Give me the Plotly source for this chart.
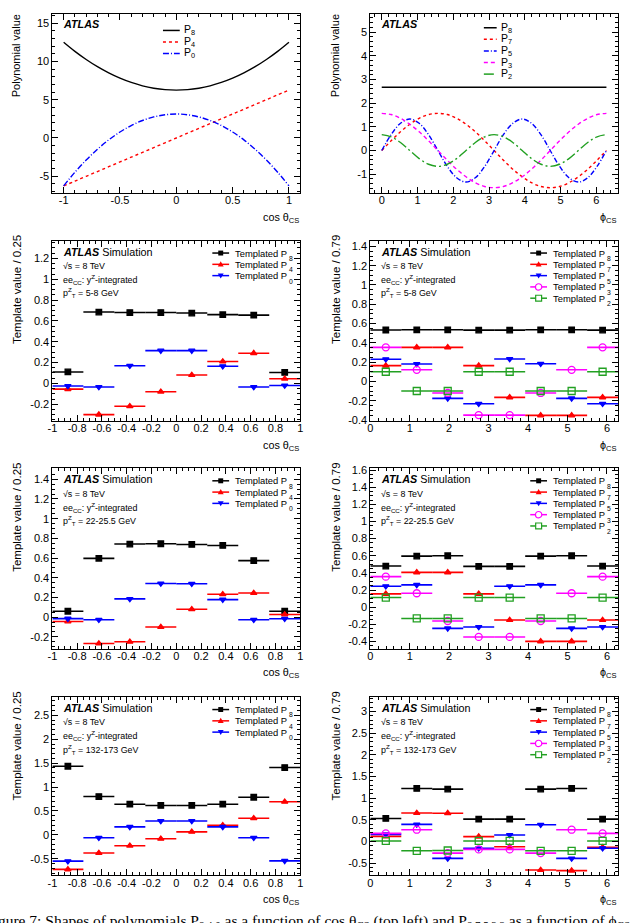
import plotly.graph_objects as go

FIG_W, FIG_H = 630, 923
SANS = "Liberation Sans, Arial, Helvetica, sans-serif"
SERIF = "Liberation Serif, Times New Roman, serif"

# ------------------------------------------------------------------ data
# top-left: polynomials vs cos(theta_CS)
cos_grid = [-1.0, -0.9, -0.8, -0.7, -0.6, -0.5, -0.4, -0.3, -0.2, -0.1, 0.0,
            0.1, 0.2, 0.3, 0.4, 0.5, 0.6, 0.7, 0.8, 0.9, 1.0]
poly_cos_P8 = [12.5, 11.31, 10.25, 9.31, 8.5, 7.81, 7.25, 6.81, 6.5, 6.31, 6.25,
               6.31, 6.5, 6.81, 7.25, 7.81, 8.5, 9.31, 10.25, 11.31, 12.5]
poly_cos_P4 = [-6.25, -5.63, -5.0, -4.38, -3.75, -3.13, -2.5, -1.88, -1.25, -0.63, 0.0,
               0.63, 1.25, 1.88, 2.5, 3.13, 3.75, 4.38, 5.0, 5.63, 6.25]
poly_cos_P0 = [-6.25, -4.47, -2.88, -1.47, -0.25, 0.78, 1.63, 2.28, 2.75, 3.03, 3.13,
               3.03, 2.75, 2.28, 1.63, 0.78, -0.25, -1.47, -2.88, -4.47, -6.25]

# top-right: polynomials vs phi_CS
phi_grid = [0.0, 0.262, 0.524, 0.785, 1.047, 1.309, 1.571, 1.833, 2.094, 2.356, 2.618,
            2.880, 3.142, 3.403, 3.665, 3.927, 4.189, 4.451, 4.712, 4.974, 5.236,
            5.498, 5.760, 6.021, 6.283]
poly_phi_P8 = [2.67] * 25
poly_phi_P7 = [0.0, 0.41, 0.79, 1.11, 1.36, 1.52, 1.57, 1.52, 1.36, 1.11, 0.79, 0.41, 0.0,
               -0.41, -0.79, -1.11, -1.36, -1.52, -1.57, -1.52, -1.36, -1.11, -0.79, -0.41, 0.0]
poly_phi_P5 = [0.0, 0.67, 1.15, 1.33, 1.15, 0.67, 0.0, -0.67, -1.15, -1.33, -1.15, -0.67, 0.0,
               0.67, 1.15, 1.33, 1.15, 0.67, 0.0, -0.67, -1.15, -1.33, -1.15, -0.67, 0.0]
poly_phi_P3 = [1.57, 1.52, 1.36, 1.11, 0.79, 0.41, 0.0, -0.41, -0.79, -1.11, -1.36, -1.52, -1.57,
               -1.52, -1.36, -1.11, -0.79, -0.41, 0.0, 0.41, 0.79, 1.11, 1.36, 1.52, 1.57]
poly_phi_P2 = [0.67, 0.58, 0.34, 0.0, -0.34, -0.58, -0.67, -0.58, -0.34, 0.0, 0.34, 0.58, 0.67,
               0.58, 0.34, 0.0, -0.34, -0.58, -0.67, -0.58, -0.34, 0.0, 0.34, 0.58, 0.67]

# templated binned shapes
cos_centers = [-0.875, -0.625, -0.375, -0.125, 0.125, 0.375, 0.625, 0.875]
cos_halfwidth = 0.125
phi_centers = [0.393, 1.178, 1.963, 2.749, 3.534, 4.320, 5.105, 5.890]
phi_halfwidth = 0.3927

# pT 5-8 GeV
c58_P8 = [0.11, 0.685, 0.68, 0.68, 0.675, 0.66, 0.655, 0.105]
c58_P4 = [-0.055, -0.30, -0.22, -0.08, 0.08, 0.21, 0.29, 0.045]
c58_P0 = [-0.025, -0.035, 0.17, 0.315, 0.315, 0.165, -0.035, -0.02]
f58_P8 = [0.533, 0.535, 0.535, 0.532, 0.532, 0.535, 0.535, 0.532]
f58_P7 = [0.163, 0.353, 0.353, 0.163, -0.166, -0.353, -0.353, -0.166]
f58_P5 = [0.23, 0.18, -0.176, -0.232, 0.232, 0.183, -0.176, -0.232]
f58_P3 = [0.353, 0.12, -0.12, -0.35, -0.35, -0.12, 0.12, 0.353]
f58_P2 = [0.10, -0.10, -0.10, 0.10, 0.10, -0.10, -0.10, 0.10]

# pT 22-25.5 GeV
c22_P8 = [0.06, 0.597, 0.742, 0.745, 0.738, 0.728, 0.574, 0.06]
c22_P4 = [-0.044, -0.268, -0.25, -0.10, 0.08, 0.232, 0.245, 0.027]
c22_P0 = [-0.015, -0.027, 0.185, 0.342, 0.339, 0.178, -0.027, -0.017]
f22_P8 = [0.48, 0.596, 0.60, 0.476, 0.476, 0.596, 0.60, 0.48]
f22_P7 = [0.155, 0.406, 0.406, 0.155, -0.15, -0.40, -0.40, -0.15]
f22_P5 = [0.244, 0.26, -0.248, -0.232, 0.244, 0.26, -0.248, -0.232]
f22_P3 = [0.356, 0.162, -0.162, -0.348, -0.348, -0.162, 0.162, 0.356]
f22_P2 = [0.112, -0.132, -0.132, 0.112, 0.112, -0.132, -0.132, 0.112]

# pT 132-173 GeV
c132_P8 = [1.434, 0.80, 0.64, 0.614, 0.614, 0.64, 0.786, 1.407]
c132_P4 = [-0.724, -0.38, -0.228, -0.083, 0.062, 0.20, 0.345, 0.69]
c132_P0 = [-0.552, -0.062, 0.166, 0.29, 0.29, 0.166, -0.062, -0.545]
f132_P8 = [0.533, 1.225, 1.21, 0.517, 0.517, 1.21, 1.225, 0.517]
f132_P7 = [0.12, 0.66, 0.655, 0.115, -0.12, -0.655, -0.67, -0.13]
f132_P5 = [0.167, 0.396, -0.388, -0.152, 0.152, 0.388, -0.388, -0.152]
f132_P3 = [0.19, 0.274, -0.266, -0.18, -0.18, -0.266, 0.274, 0.19]
f132_P2 = [0.015, -0.213, -0.205, 0.015, 0.015, -0.213, -0.213, 0.015]

pt_labels = ["5-8 GeV", "22-25.5 GeV", "132-173 GeV"]

# tick labels
xt_top_cos = [-1, -0.5, 0, 0.5, 1]
xt_top_cos_txt = ["-1", "-0.5", "0", "0.5", "1"]
yt_top_cos = [-5, 0, 5, 10, 15]
yt_top_cos_txt = ["-5", "0", "5", "10", "15"]
xt_phi = [0, 1, 2, 3, 4, 5, 6]
xt_phi_txt = ["0", "1", "2", "3", "4", "5", "6"]
yt_top_phi = [-1, 0, 1, 2, 3, 4, 5]
yt_top_phi_txt = ["-1", "0", "1", "2", "3", "4", "5"]
xt_cos = [-1, -0.8, -0.6, -0.4, -0.2, 0, 0.2, 0.4, 0.6, 0.8, 1]
xt_cos_txt = ["-1", "-0.8", "-0.6", "-0.4", "-0.2", "0", "0.2", "0.4", "0.6", "0.8", "1"]
yt_r2l = [-0.2, 0, 0.2, 0.4, 0.6, 0.8, 1, 1.2]
yt_r2l_txt = ["-0.2", "0", "0.2", "0.4", "0.6", "0.8", "1", "1.2"]
yt_r2r = [-0.4, -0.2, 0, 0.2, 0.4, 0.6, 0.8, 1, 1.2, 1.4]
yt_r2r_txt = ["-0.4", "-0.2", "0", "0.2", "0.4", "0.6", "0.8", "1", "1.2", "1.4"]
yt_r3l = [-0.2, 0, 0.2, 0.4, 0.6, 0.8, 1, 1.2, 1.4]
yt_r3l_txt = ["-0.2", "0", "0.2", "0.4", "0.6", "0.8", "1", "1.2", "1.4"]
yt_r3r = [-0.4, -0.2, 0, 0.2, 0.4, 0.6, 0.8, 1, 1.2, 1.4, 1.6]
yt_r3r_txt = ["-0.4", "-0.2", "0", "0.2", "0.4", "0.6", "0.8", "1", "1.2", "1.4", "1.6"]
yt_r4l = [-0.5, 0, 0.5, 1, 1.5, 2, 2.5]
yt_r4l_txt = ["-0.5", "0", "0.5", "1", "1.5", "2", "2.5"]
yt_r4r = [-0.5, 0, 0.5, 1, 1.5, 2, 2.5, 3]
yt_r4r_txt = ["-0.5", "0", "0.5", "1", "1.5", "2", "2.5", "3"]

# ------------------------------------------------------------------ styles / geometry
COL_PX = [(48, 299), (370, 621)]
ROW_PX = [(10, 191), (239, 421), (469, 651), (700, 880)]

BLACK, RED, BLUE, MAG, GREEN = "#000000", "#ff0000", "#0000ff", "#ff00ff", "#22a022"
SER_STYLE = {
    "P8": dict(color=BLACK, symbol="square", size=5.5),
    "P7": dict(color=RED, symbol="triangle-up", size=5.5),
    "P4": dict(color=RED, symbol="triangle-up", size=5.5),
    "P5": dict(color=BLUE, symbol="triangle-down", size=5.5),
    "P0": dict(color=BLUE, symbol="triangle-down", size=5.5),
    "P3": dict(color=MAG, symbol="circle-open", size=7),
    "P2": dict(color=GREEN, symbol="square-open", size=7),
}

TICK_FS = 11
LEG_FS = 9.4
SMALL_FS = 8.9
ATLAS_FS = 10.8
TITLE_FS = 11.5


def X(p):
    return p / FIG_W


def Y(p):
    return 1 - p / FIG_H


fig = go.Figure()
annotations = []
shapes = []
layout_axes = {}


def txt(x, y, text, size, family=SANS, xanchor="left", yanchor="middle", angle=0, color="black"):
    annotations.append(dict(x=X(x), y=Y(y), xref="paper", yref="paper", text=text, showarrow=False,
                            xanchor=xanchor, yanchor=yanchor, textangle=angle, borderpad=0,
                            font=dict(family=family, size=size, color=color)))


def axes(n, row, col, xr, yr, xtv, xtt, xminor, ytv, ytt, yminor):
    (x0, x1), (y0, y1) = COL_PX[col], ROW_PX[row]
    common = dict(showline=True, linecolor="black", linewidth=1, mirror="allticks",
                  ticks="inside", ticklen=6, tickwidth=1, tickcolor="black",
                  showgrid=False, zeroline=False, tickmode="array",
                  tickfont=dict(family=SANS, size=TICK_FS, color="black"))
    sfx = "" if n == 1 else str(n)
    layout_axes["xaxis" + sfx] = dict(domain=[X(x0), X(x1)], range=xr, anchor="y" + sfx,
                                      tickvals=xtv, ticktext=xtt, ticklabelstandoff=-3,
                                      minor=dict(tickmode="linear", tick0=0, dtick=xminor, ticks="inside",
                                                 ticklen=3, tickcolor="black", showgrid=False),
                                      **common)
    layout_axes["yaxis" + sfx] = dict(domain=[Y(y1), Y(y0)], range=yr, anchor="x" + sfx,
                                      tickvals=ytv, ticktext=ytt, ticklabelstandoff=0,
                                      minor=dict(tickmode="linear", tick0=0, dtick=yminor, ticks="inside",
                                                 ticklen=3, tickcolor="black", showgrid=False),
                                      **common)
    return "x" + sfx, "y" + sfx


def legend_key(xl0, xl1, yc, color, symbol=None, dash="solid"):
    shapes.append(dict(type="line", xref="paper", yref="paper", x0=X(xl0), x1=X(xl1), y0=Y(yc), y1=Y(yc),
                       line=dict(color=color, width=1.5, dash=dash)))
    if symbol is None:
        return
    xm = (xl0 + xl1) / 2
    if symbol == "square":
        shapes.append(dict(type="rect", xref="paper", yref="paper", x0=X(xm - 2.5), x1=X(xm + 2.5),
                           y0=Y(yc + 2.5), y1=Y(yc - 2.5), fillcolor=color, line=dict(width=0)))
    elif symbol == "square-open":
        shapes.append(dict(type="rect", xref="paper", yref="paper", x0=X(xm - 3), x1=X(xm + 3),
                           y0=Y(yc + 3), y1=Y(yc - 3), fillcolor="white", line=dict(width=1.2, color=color)))
    elif symbol == "circle-open":
        shapes.append(dict(type="circle", xref="paper", yref="paper", x0=X(xm - 3.2), x1=X(xm + 3.2),
                           y0=Y(yc + 3.2), y1=Y(yc - 3.2), fillcolor="white", line=dict(width=1.2, color=color)))
    elif symbol in ("triangle-up", "triangle-down"):
        s = -1 if symbol == "triangle-up" else 1
        path = "M {a},{b} L {c},{b} L {d},{e} Z".format(a=X(xm - 3), c=X(xm + 3), b=Y(yc - s * 2.2),
                                                       d=X(xm), e=Y(yc + s * 3))
        shapes.append(dict(type="path", xref="paper", yref="paper", path=path, fillcolor=color,
                           line=dict(width=0)))


# ------------------------------------------------------------------ top row: polynomials
xa, ya = axes(1, 0, 0, [-1.1, 1.1], [-7.2, 16.2], xt_top_cos, xt_top_cos_txt, 0.1,
              yt_top_cos, yt_top_cos_txt, 1)
top_left = [("P8", poly_cos_P8, BLACK, "solid"), ("P4", poly_cos_P4, RED, "dot"),
            ("P0", poly_cos_P0, BLUE, "6px,2px,1px,2px")]
for i, (nm, vals, c, d) in enumerate(top_left):
    fig.add_trace(go.Scatter(x=cos_grid, y=vals, mode="lines", xaxis=xa, yaxis=ya, showlegend=False,
                             line=dict(color=c, width=1.4, dash=d, shape="spline")))
    yc = 26.7 + 11.6 * i
    legend_key(160, 177, yc, c, None, d)
    txt(180, yc, "P<sub>%s</sub>" % nm[1:], 10.5)

xa, ya = axes(2, 0, 1, [-0.32, 6.61], [-1.8, 5.77], xt_phi, xt_phi_txt, 0.2,
              yt_top_phi, yt_top_phi_txt, 0.2)
top_right = [("P8", poly_phi_P8, BLACK, "solid"), ("P7", poly_phi_P7, RED, "dot"),
             ("P5", poly_phi_P5, BLUE, "5px,2px,1px,2px"), ("P3", poly_phi_P3, MAG, "4px,3px"),
             ("P2", poly_phi_P2, GREEN, "10px,3px,2px,3px")]
for i, (nm, vals, c, d) in enumerate(top_right):
    fig.add_trace(go.Scatter(x=phi_grid, y=vals, mode="lines", xaxis=xa, yaxis=ya, showlegend=False,
                             line=dict(color=c, width=1.4, dash=d, shape="spline")))
    yc = 24 + 11.7 * i
    legend_key(485, 498, yc, c, None, d)
    txt(501, yc, "P<sub>%s</sub>" % nm[1:], 10.5)

for col in (0, 1):
    txt(COL_PX[col][0] + 10, ROW_PX[0][0] + 10, "<b><i>ATLAS</i></b>", ATLAS_FS)
txt(12, ROW_PX[0][0] - 1, "Polynomial value", 11, xanchor="center", yanchor="top", angle=-90)
txt(335, ROW_PX[0][0] - 1, "Polynomial value", 11, xanchor="center", yanchor="top", angle=-90)

# ------------------------------------------------------------------ templated rows
cos_rows = [
    ([("P8", c58_P8), ("P4", c58_P4), ("P0", c58_P0)], [-0.36, 1.37], yt_r2l, yt_r2l_txt, 0.05),
    ([("P8", c22_P8), ("P4", c22_P4), ("P0", c22_P0)], [-0.32, 1.51], yt_r3l, yt_r3l_txt, 0.05),
    ([("P8", c132_P8), ("P4", c132_P4), ("P0", c132_P0)], [-0.85, 2.88], yt_r4l, yt_r4l_txt, 0.1),
]
phi_rows = [
    ([("P8", f58_P8), ("P7", f58_P7), ("P5", f58_P5), ("P3", f58_P3), ("P2", f58_P2)],
     [-0.41, 1.46], yt_r2r, yt_r2r_txt, 0.05),
    ([("P8", f22_P8), ("P7", f22_P7), ("P5", f22_P5), ("P3", f22_P3), ("P2", f22_P2)],
     [-0.485, 1.62], yt_r3r, yt_r3r_txt, 0.05),
    ([("P8", f132_P8), ("P7", f132_P7), ("P5", f132_P5), ("P3", f132_P3), ("P2", f132_P2)],
     [-0.78, 3.33], yt_r4r, yt_r4r_txt, 0.1),
]

for r in range(3):
    row = r + 1
    for col, (spec, centers, hw, xr, xtv, xtt, xminor, xtitle, ytitle) in enumerate([
        (cos_rows[r], cos_centers, cos_halfwidth, [-1, 1], xt_cos, xt_cos_txt, 0.05,
         "cos θ<sub>CS</sub>", "Template value / 0.25"),
        (phi_rows[r], phi_centers, phi_halfwidth, [0, 6.2832], xt_phi, xt_phi_txt, 0.2,
         "ϕ<sub>CS</sub>", "Template value / 0.79"),
    ]):
        series, yr, ytv, ytt, yminor = spec
        n = 2 * row + col + 1
        xa, ya = axes(n, row, col, xr, yr, xtv, xtt, xminor, ytv, ytt, yminor)
        for nm, vals in series:
            st = SER_STYLE[nm]
            fig.add_trace(go.Scatter(
                x=centers, y=vals, mode="markers", xaxis=xa, yaxis=ya, showlegend=False,
                name="Templated " + nm,
                marker=dict(color=st["color"], symbol=st["symbol"], size=st["size"],
                            line=dict(width=1.3, color=st["color"])),
                error_x=dict(type="constant", value=hw, width=0, thickness=1.6, color=st["color"])))
        (px0, px1), (py0, py1) = COL_PX[col], ROW_PX[row]
        # legend
        for i, (nm, vals) in enumerate(series):
            st = SER_STYLE[nm]
            yc = py0 + 12.5 + 11.4 * i
            legend_key(px1 - 89, px1 - 72, yc, st["color"], st["symbol"])
            txt(px1 - 67, yc, "Templated P", LEG_FS)
            txt(px1 - 67 + 54.5, yc + 5.5, nm[1:], 6.8)
        # labels
        txt(px0 + 10, py0 + 11, "<b><i>ATLAS</i></b> Simulation", ATLAS_FS)
        txt(px0 + 10, py0 + 25.5, "√s = 8 TeV", SMALL_FS)
        txt(px0 + 10, py0 + 39, "ee<sub>CC</sub>: y<sup>Z</sup>-integrated", SMALL_FS)
        txt(px0 + 10, py0 + 52.5, "p<sup>Z</sup><sub>T</sub> = " + pt_labels[r], SMALL_FS)
        txt(px1, py1 + 25, xtitle, 10.8, xanchor="right")
        txt(12 if col == 0 else 335, py0 - 7, ytitle, TITLE_FS, xanchor="center",
            yanchor="top", angle=-90)

# top-row x titles
txt(COL_PX[0][1], ROW_PX[0][1] + 25, "cos θ<sub>CS</sub>", 10.8, xanchor="right")
txt(COL_PX[1][1], ROW_PX[0][1] + 25, "ϕ<sub>CS</sub>", 10.8, xanchor="right")

# caption (cut by the page edge, as in the source page)
txt(-21, 927, "Figure 7: Shapes of polynomials P<sub>8,4,0</sub> as a function of cos θ<sub>CS</sub> "
    "(top left) and P<sub>8,7,5,3,2</sub> as a function of ϕ<sub>CS</sub>", 15.5, family=SERIF)

fig.update_layout(width=FIG_W, height=FIG_H, margin=dict(l=0, r=0, t=0, b=0),
                  paper_bgcolor="white", plot_bgcolor="white", showlegend=False,
                  annotations=annotations, shapes=shapes, **layout_axes)
fig.write_html("out.html", config={"displayModeBar": False},
               post_script="document.body.style.margin='0';document.body.style.overflow='hidden';")
